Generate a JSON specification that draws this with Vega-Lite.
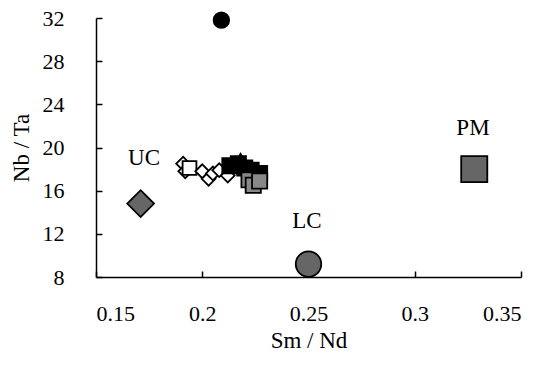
{
  "$schema": "https://vega.github.io/schema/vega-lite/v6.json",
  "width": 425,
  "height": 259,
  "autosize": {"type": "none"},
  "padding": {"left": 96, "top": 18, "right": 20, "bottom": 94},
  "background": "white",
  "config": {
    "view": {"stroke": null},
    "font": "Liberation Serif",
    "axis": {"grid": false, "domainColor": "black", "domainWidth": 1.5, "tickColor": "black", "tickWidth": 1.5, "labelColor": "black", "titleColor": "black", "titleFontWeight": "normal"}
  },
  "datasets": {
    "pts": [
      {"x": 0.209, "y": 31.8, "group": "bc"},
      {"x": 0.191, "y": 18.5, "group": "od"},
      {"x": 0.192, "y": 17.8, "group": "od"},
      {"x": 0.194, "y": 18.1, "group": "os"},
      {"x": 0.2, "y": 17.8, "group": "od"},
      {"x": 0.203, "y": 17.1, "group": "od"},
      {"x": 0.205, "y": 17.6, "group": "od"},
      {"x": 0.208, "y": 17.9, "group": "od"},
      {"x": 0.212, "y": 17.4, "group": "od"},
      {"x": 0.213, "y": 18.3, "group": "bs"},
      {"x": 0.217, "y": 18.5, "group": "bs"},
      {"x": 0.218, "y": 18.8, "group": "bt"},
      {"x": 0.22, "y": 18.1, "group": "bs"},
      {"x": 0.223, "y": 17.9, "group": "bs"},
      {"x": 0.227, "y": 17.6, "group": "bs"},
      {"x": 0.222, "y": 17.0, "group": "hs"},
      {"x": 0.224, "y": 16.5, "group": "hs"},
      {"x": 0.227, "y": 16.9, "group": "hs"},
      {"x": 0.171, "y": 14.8, "group": "UC"},
      {"x": 0.25, "y": 9.2, "group": "LC"},
      {"x": 0.328, "y": 18.0, "group": "PM"}
    ],
    "labels": [
      {"x": 0.1726, "y": 19.0, "label": "UC"},
      {"x": 0.2493, "y": 13.2, "label": "LC"},
      {"x": 0.3274, "y": 21.8, "label": "PM"}
    ]
  },
  "layer": [
    {
      "data": {"name": "pts"},
      "mark": {"type": "point", "filled": true, "stroke": "black", "strokeWidth": 1.8, "opacity": 1},
      "encoding": {
        "x": {"field": "x", "type": "quantitative", "scale": {"domain": [0.15, 0.35], "nice": false, "zero": false},
              "axis": {"values": [0.15, 0.2, 0.25, 0.3, 0.35], "format": "~g", "tickSize": -6, "labelPadding": 32, "labelFont": "Liberation Serif", "labelFontSize": 22, "labelColor": "black", "title": "Sm / Nd", "titleFont": "Liberation Serif", "titleFontSize": 23, "titleColor": "black", "titleBaseline": "alphabetic", "titleY": 70}},
        "y": {"field": "y", "type": "quantitative", "scale": {"domain": [8, 32], "nice": false, "zero": false},
              "axis": {"values": [8, 12, 16, 20, 24, 28, 32], "tickSize": -6, "labelPadding": 38, "labelFont": "Liberation Serif", "labelFontSize": 22, "labelColor": "black", "title": "Nb / Ta", "titleFont": "Liberation Serif", "titleFontSize": 23, "titleColor": "black", "titleBaseline": "alphabetic", "titleX": -68}},
        "shape": {"field": "group", "type": "nominal", "legend": null,
                  "scale": {"domain": ["bc", "od", "os", "bs", "bt", "hs", "UC", "LC", "PM"],
                            "range": ["circle", "diamond", "square", "square", "triangle-up", "square", "diamond", "circle", "square"]}},
        "fill": {"field": "group", "type": "nominal", "legend": null,
                 "scale": {"domain": ["bc", "od", "os", "bs", "bt", "hs", "UC", "LC", "PM"],
                           "range": ["black", "white", "white", "black", "black", "#888888", "#666666", "#666666", "#666666"]}},
        "size": {"field": "group", "type": "nominal", "legend": null,
                 "scale": {"type": "ordinal", "domain": ["bc", "od", "os", "bs", "bt", "hs", "UC", "LC", "PM"],
                           "range": [240, 190, 190, 230, 230, 230, 720, 650, 680]}}
      }
    },
    {
      "data": {"name": "labels"},
      "mark": {"type": "text", "fontSize": 23, "font": "Liberation Serif", "color": "black"},
      "encoding": {
        "x": {"field": "x", "type": "quantitative"},
        "y": {"field": "y", "type": "quantitative"},
        "text": {"field": "label"}
      }
    }
  ]
}
